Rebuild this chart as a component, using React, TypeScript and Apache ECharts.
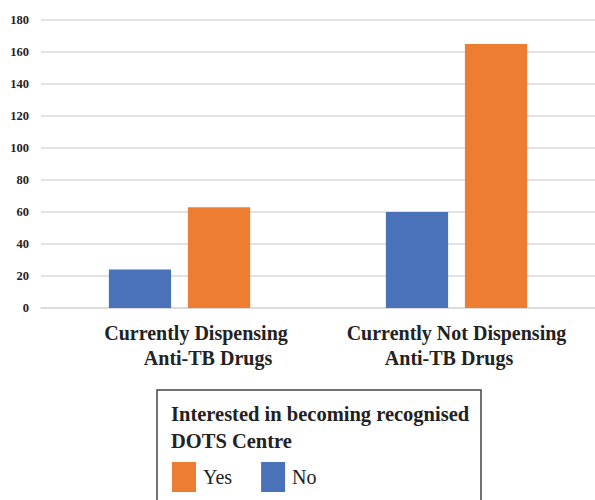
import React, { useEffect, useRef } from "react";
import * as echarts from "echarts";

const categories = ["Currently Dispensing\nAnti-TB Drugs", "Currently Not Dispensing\nAnti-TB Drugs"];
const noValues = [24, 60];
const yesValues = [63, 165];
const legendTitle = "Interested in becoming recognised\nDOTS Centre";
const FONT = '"Liberation Serif", "Times New Roman", serif';

export default function App() {
  const ref = useRef<HTMLDivElement>(null);
  useEffect(() => {
    const chart = echarts.init(ref.current!, undefined, { renderer: "svg" });
    const lbl = { fontFamily: FONT, fontWeight: "bold", fontSize: 20, lineHeight: 25, color: "#222" };
    chart.setOption({
      animation: false,
      backgroundColor: "#fff",
      grid: { left: 41, top: 20, width: 556, height: 288, containLabel: false },
      xAxis: {
        type: "category",
        data: categories,
        axisLine: { show: true, lineStyle: { color: "#d9d9d9", width: 1.5 } },
        axisTick: { show: false },
        axisLabel: {
          ...lbl,
          margin: 12,
          interval: 0,
          formatter: (value: string, index: number) => {
            const lines = value.split("\n");
            if (index === 0) return `{a|${lines[0]}}\n{b|${lines[1]}}`;
            return `{c|${lines[0]}}\n{d|${lines[1]}}`;
          },
          rich: {
            a: { ...lbl, padding: [0, 0, 0, 33] },
            b: { ...lbl, padding: [0, 0, 0, 57] },
            c: { ...lbl },
            d: { ...lbl, padding: [0, 15, 0, 0] },
          },
        },
      },
      yAxis: {
        type: "value",
        min: 0,
        max: 180,
        interval: 20,
        axisLine: { show: false },
        axisTick: { show: false },
        splitLine: { lineStyle: { color: "#d9d9d9", width: 1.5 } },
        axisLabel: {
          fontFamily: FONT,
          fontWeight: "bold",
          fontSize: 12.5,
          color: "#222",
          margin: 12,
        },
      },
      legend: {
        data: ["Yes", "No"],
        left: 172,
        top: 462,
        padding: 0,
        orient: "horizontal",
        itemWidth: 24,
        itemHeight: 30,
        itemGap: 29,
        icon: "rect",
        textStyle: { fontFamily: FONT, fontSize: 20, color: "#222", padding: [0, 0, 0, 2] },
      },
      graphic: [
        {
          type: "rect",
          shape: { x: 157, y: 390, width: 324, height: 125 },
          style: { fill: "none", stroke: "#444", lineWidth: 1.5 },
          silent: true,
        },
        {
          type: "text",
          x: 171,
          y: 400,
          style: {
            text: legendTitle,
            fontFamily: FONT,
            fontWeight: "bold",
            fontSize: 20.5,
            lineHeight: 27,
            fill: "#222",
          },
          silent: true,
        },
      ],
      series: [
        {
          name: "No",
          type: "bar",
          data: noValues,
          itemStyle: { color: "#4A72B8" },
          barGap: "27%",
          barCategoryGap: "49%",
        },
        {
          name: "Yes",
          type: "bar",
          data: yesValues,
          itemStyle: { color: "#ED7D31" },
          barGap: "27%",
          barCategoryGap: "49%",
        },
      ],
    });
    return () => chart.dispose();
  }, []);
  return <div ref={ref} style={{ position: "fixed", left: 0, top: 0, width: 595, height: 500 }} />;
}
